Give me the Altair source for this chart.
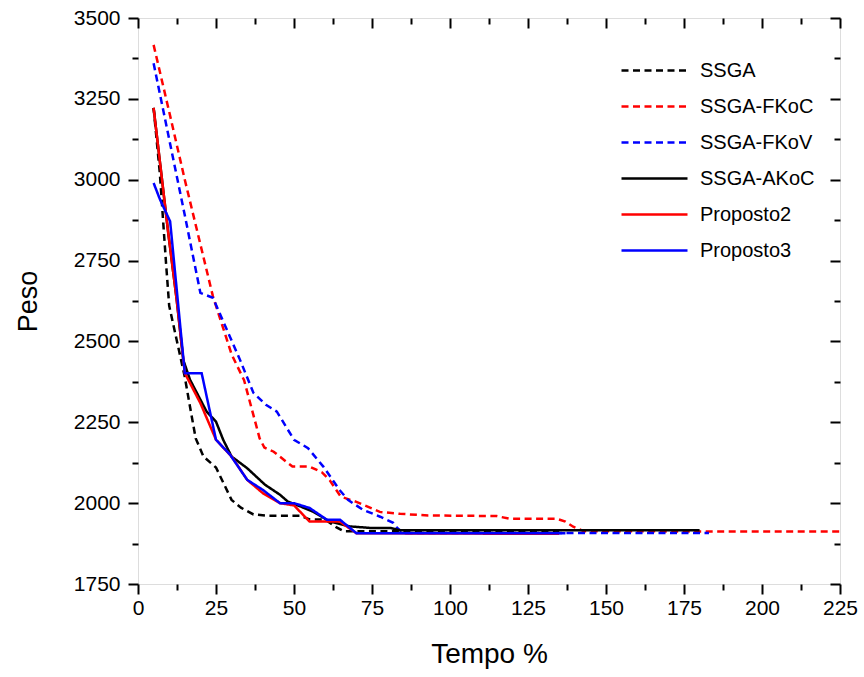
import altair as alt
import pandas as pd

# ---------------- data ----------------
series_names = ["SSGA", "SSGA-FKoC", "SSGA-FKoV", "SSGA-AKoC", "Proposto2", "Proposto3"]
series_colors = ["#000000", "#ff0000", "#0000ff", "#000000", "#ff0000", "#0000ff"]

ssga_x = [5, 7, 8, 9, 10, 12.5, 15, 17, 18.5, 21, 25, 27.5, 30, 33, 37, 42, 52, 55, 60, 63.5, 66, 70, 135]
ssga_y = [3222, 3020, 2880, 2740, 2610, 2500, 2390, 2280, 2200, 2144, 2110, 2060, 2010, 1986, 1965, 1961, 1961, 1950, 1949, 1926, 1913, 1913, 1913]

fkoc_x = [5, 10, 15, 20, 24, 30, 34, 39, 40.5, 43.5, 49.5, 55, 59, 61.5, 65, 70, 77.5, 84, 93, 115, 119, 134, 137, 139.5, 143, 225]
fkoc_y = [3417, 3210, 3000, 2800, 2640, 2460, 2380, 2200, 2172, 2159, 2113, 2113, 2095, 2070, 2020, 2004, 1973, 1967, 1962, 1960, 1952, 1952, 1943, 1927, 1913, 1912]

fkov_x = [5, 10, 15, 20, 24, 32.7, 37, 41, 44.5, 50, 54.5, 59.4, 64.5, 67.3, 72, 77.6, 81.8, 83, 85, 183]
fkov_y = [3360, 3125, 2890, 2650, 2635, 2443, 2341, 2304, 2283, 2196, 2170, 2113, 2042, 2010, 1980, 1958, 1939, 1924, 1908, 1908]

akoc_x = [5, 9.7, 12.4, 14.5, 16.7, 20, 22, 25, 27.3, 30, 35, 40.7, 45.5, 48, 52, 56, 61.5, 68, 75, 81, 84, 180]
akoc_y = [3222, 2835, 2629, 2443, 2381, 2320, 2283, 2252, 2196, 2144, 2108, 2057, 2026, 2005, 1990, 1974, 1943, 1928, 1923, 1923, 1916, 1916]

prop2_x = [5, 9.7, 12.4, 15, 20, 25, 30, 35, 40, 45.5, 50, 55, 64.7, 70, 135]
prop2_y = [3222, 2835, 2629, 2402, 2309, 2196, 2144, 2072, 2031, 2000, 1993, 1943, 1943, 1907, 1905]

prop3_x = [5, 7, 10.3, 15, 20.4, 25, 29.5, 35, 40, 45.5, 50, 55, 60.5, 64.7, 70, 137]
prop3_y = [2990, 2940, 2871, 2402, 2402, 2196, 2150, 2072, 2041, 2000, 2000, 1985, 1949, 1949, 1907, 1907]

x_major = [0, 25, 50, 75, 100, 125, 150, 175, 200, 225]
x_minor = [12.5, 37.5, 62.5, 87.5, 112.5, 137.5, 162.5, 187.5, 212.5]
y_major = [1750, 2000, 2250, 2500, 2750, 3000, 3250, 3500]
y_minor = [1875, 2125, 2375, 2625, 2875, 3125, 3375]

# ---------------- build table ----------------
xs = [ssga_x, fkoc_x, fkov_x, akoc_x, prop2_x, prop3_x]
ys = [ssga_y, fkoc_y, fkov_y, akoc_y, prop2_y, prop3_y]
rows = []
for i, (name, sx, sy) in enumerate(zip(series_names, xs, ys)):
    for j, (a, b) in enumerate(zip(sx, sy)):
        rows.append({"series": name, "order": i, "t": a, "peso": b, "k": j})
df = pd.DataFrame(rows)

FONT = "Liberation Sans"
DASH = [7, 4.5]
dash_range = [DASH, DASH, DASH, [1, 0], [1, 0], [1, 0]]

xscale = alt.Scale(domain=[0, 225], nice=False, zero=False)
yscale = alt.Scale(domain=[1750, 3500], nice=False, zero=False)

base = alt.Chart(df)

legend_kw = dict(title=None, orient="none", legendX=504, legendY=40,
                 symbolType="M-3,0H3", symbolSize=484,
                 symbolStrokeWidth=2.5, labelFont=FONT,
                 labelFontSize=20, labelColor="black",
                 labelOffset=33, rowPadding=13, padding=0)

lines = base.mark_line(strokeWidth=2.5, clip=True).encode(
    x=alt.X("t:Q", scale=xscale,
            axis=alt.Axis(orient="bottom", values=x_major, tickSize=10, tickWidth=2,
                          tickColor="black", domain=False, grid=False, format="d",
                          labelFont=FONT, labelFontSize=21, labelColor="black",
                          labelPadding=3, labelFlush=False,
                          title="Tempo %", titleFont=FONT, titleFontSize=28,
                          titleFontWeight="normal", titleColor="black", titlePadding=22)),
    y=alt.Y("peso:Q", scale=yscale,
            axis=alt.Axis(orient="left", values=y_major, tickSize=10, tickWidth=2,
                          tickColor="black", domain=False, grid=False, format="d",
                          labelFont=FONT, labelFontSize=21, labelColor="black",
                          labelPadding=8, labelFlush=False,
                          title="Peso", titleFont=FONT, titleFontSize=27,
                          titleFontWeight="normal", titleColor="black", titlePadding=31)),
    color=alt.Color("series:N",
                    scale=alt.Scale(domain=series_names, range=series_colors),
                    legend=alt.Legend(**legend_kw)),
    strokeDash=alt.StrokeDash("series:N",
                              scale=alt.Scale(domain=series_names, range=dash_range),
                              legend=alt.Legend(**legend_kw)),
    detail="series:N",
    order="k:Q",
)

def tick_layer(x_orient, y_orient, xv, yv, size, offset):
    return base.mark_point(opacity=0).encode(
        x=alt.X("t:Q", scale=xscale,
                axis=alt.Axis(orient=x_orient, values=xv, tickSize=size, tickWidth=2,
                              tickColor="black", domain=False, grid=False, labels=False,
                              title=None, offset=offset)),
        y=alt.Y("peso:Q", scale=yscale,
                axis=alt.Axis(orient=y_orient, values=yv, tickSize=size, tickWidth=2,
                              tickColor="black", domain=False, grid=False, labels=False,
                              title=None, offset=offset)),
    )

minor_out = tick_layer("bottom", "left", x_minor, y_minor, 6, 0)
major_in = tick_layer("top", "right", x_major, y_major, 10, -10)
minor_in = tick_layer("top", "right", x_minor, y_minor, 6, -6)

chart = alt.layer(lines, minor_out, major_in, minor_in).resolve_axis(
    x="independent", y="independent"
).properties(
    width=702, height=566,
    autosize=alt.AutoSizeParams(type="none"),
    padding={"left": 138, "top": 18, "right": 24, "bottom": 93},
).configure_view(stroke="black", strokeWidth=2).configure(background="white")

chart.save("out.html", embed_options={"renderer": "svg", "actions": False})
